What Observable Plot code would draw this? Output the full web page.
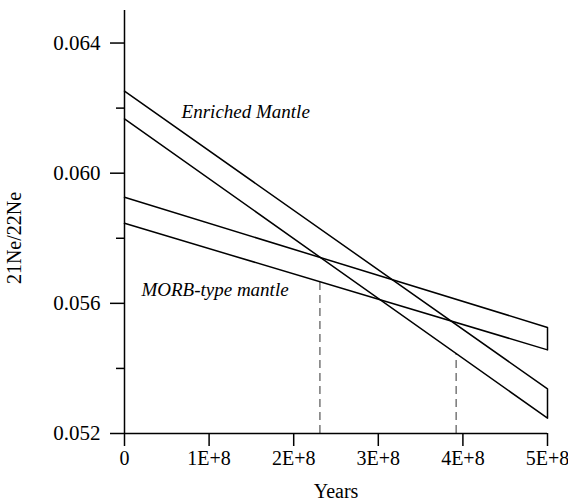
<!DOCTYPE html>
<html>
<head>
<meta charset="utf-8">
<script src="https://cdn.jsdelivr.net/npm/d3@7"></script>
<script src="https://cdn.jsdelivr.net/npm/@observablehq/plot@0.6"></script>
<style>
  html, body { margin: 0; padding: 0; background: #fff; }
</style>
</head>
<body>
<div id="chart"></div>
<script>
// Band end points (years, 21Ne/22Ne)
const years = [0, 5e8];
const enrichedUpper = [0.06252, 0.05337];
const enrichedLower = [0.06167, 0.05247];
const morbUpper = [0.05926, 0.05526];
const morbLower = [0.05846, 0.05457];

// Dashed drop lines
const dropX = [2.31e8, 3.92e8];
const dropTop = [0.05666, 0.05446];

// Axes
const xTicks = [0, 1e8, 2e8, 3e8, 4e8, 5e8];
const xTickLabels = ["0", "1E+8", "2E+8", "3E+8", "4E+8", "5E+8"];
const yMajor = [0.052, 0.056, 0.060, 0.064];
const yMajorLabels = ["0.052", "0.056", "0.060", "0.064"];
const yMinor = [0.054, 0.058, 0.062];

// Annotations
const labels = ["Enriched Mantle", "MORB-type mantle"];
const labelX = [0.675e8, 0.2e8];
const labelY = [0.06188, 0.05642];

function band(upper, lower, name) {
  return [
    {x: years[0], y: upper[0], band: name},
    {x: years[1], y: upper[1], band: name},
    {x: years[1], y: lower[1], band: name},
    {x: years[0], y: lower[0], band: name}
  ];
}
const bands = [
  ...band(enrichedUpper, enrichedLower, "enriched"),
  ...band(morbUpper, morbLower, "morb")
];
const drops = dropX.map((x, i) => ({x, y: dropTop[i]}));
const notes = labels.map((t, i) => ({t, x: labelX[i], y: labelY[i]}));

const chart = Plot.plot({
  width: 568,
  height: 502,
  marginLeft: 124,
  marginRight: 21,
  marginTop: 10,
  marginBottom: 69,
  style: {fontFamily: "'Liberation Serif', 'Times New Roman', serif", fontSize: "20px", color: "#000", background: "#fff"},
  x: {domain: [0, 5e8]},
  y: {domain: [0.052, 0.065]},
  marks: [
    Plot.ruleX(drops, {x: "x", y1: 0.052, y2: "y", stroke: "#555", strokeWidth: 1.2, strokeDasharray: "8,5"}),
    Plot.line(bands, {x: "x", y: "y", z: "band", stroke: "#000", strokeWidth: 1.5, curve: "linear"}),
    Plot.axisX({ticks: xTicks, tickFormat: d => xTickLabels[xTicks.indexOf(d)], tickSize: 13, tickPadding: 4, strokeWidth: 1.5, label: null, fontSize: 20}),
    Plot.axisY({ticks: yMajor, tickFormat: d => yMajorLabels[yMajor.findIndex(v => Math.abs(v - d) < 1e-9)], tickSize: 14, tickPadding: 10, strokeWidth: 1.5, label: null, fontSize: 21}),
    Plot.axisY({ticks: yMinor, tickFormat: () => "", tickSize: 8, strokeWidth: 1.5, label: null}),
    Plot.ruleX([0], {stroke: "#000", strokeWidth: 1.5}),
    Plot.ruleY([0.052], {stroke: "#000", strokeWidth: 1.5}),
    Plot.text(notes, {x: "x", y: "y", text: "t", textAnchor: "start", fontStyle: "italic", fontSize: 19, fill: "#000"}),
    Plot.text(["Years"], {frameAnchor: "bottom", lineAnchor: "middle", textAnchor: "middle", dy: 58, text: d => d, fontSize: 20, fill: "#000"}),
    Plot.text(["21Ne/22Ne"], {frameAnchor: "middle", textAnchor: "middle", lineAnchor: "middle", dx: -321, dy: 16, rotate: -90, text: d => d, fontSize: 20, fill: "#000"})
  ]
});
document.getElementById("chart").appendChild(chart);
</script>
</body>
</html>
